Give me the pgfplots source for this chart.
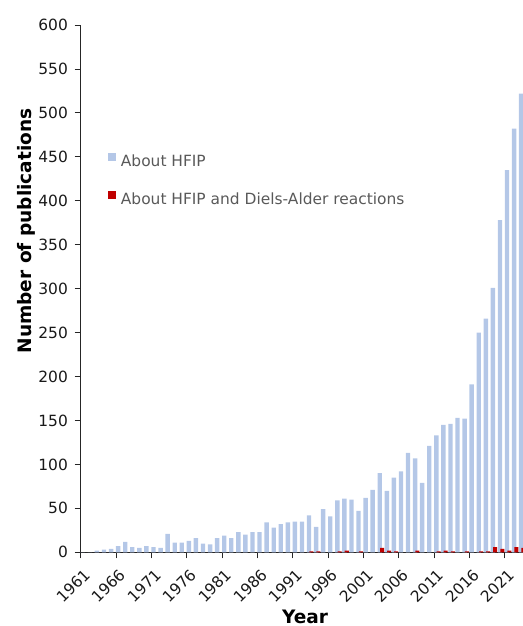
\documentclass[border=0pt]{standalone}
\usepackage{pgfplots}
\pgfplotsset{compat=1.18}
\usepackage{pgfplotstable}
\usepackage{fontspec}
\setmainfont{DejaVu Sans}
\definecolor{hfipblue}{HTML}{B4C7E7}
\definecolor{dared}{HTML}{C00000}
\definecolor{legtext}{HTML}{595959}

\pgfplotstableread{
year n
1961 0
1962 0
1963 2
1964 3
1965 4
1966 7
1967 12
1968 6
1969 5
1970 7
1971 6
1972 5
1973 21
1974 11
1975 11
1976 13
1977 16
1978 10
1979 9
1980 16
1981 19
1982 16
1983 23
1984 20
1985 23
1986 23
1987 34
1988 28
1989 32
1990 34
1991 35
1992 35
1993 42
1994 29
1995 49
1996 41
1997 59
1998 61
1999 60
2000 47
2001 62
2002 71
2003 90
2004 70
2005 85
2006 92
2007 113
2008 107
2009 79
2010 121
2011 133
2012 145
2013 146
2014 153
2015 152
2016 191
2017 250
2018 266
2019 301
2020 378
2021 435
2022 482
2023 522
}\hfip

\pgfplotstableread{
year n
1993 1
1994 1
1997 1
1998 2
2000 1
2003 5
2004 2
2005 1
2008 2
2011 1
2012 2
2013 1
2015 1
2017 1
2018 1
2019 6
2020 4
2021 2
2022 6
2023 5
}\hfipda

\begin{document}
\begin{tikzpicture}
\begin{axis}[
  at={(0,0)}, anchor=south west,
  scale only axis, width=442.4bp, height=527.3bp,
  xmin=1961, xmax=2023.57, ymin=0, ymax=600,
  axis lines=left,
  axis line style={-, black!85, line width=0.9pt},
  tick align=outside, major tick length=6bp,
  tick style={black!85, line width=0.8pt},
  xtick={1961,1966,...,2021}, ytick={0,50,...,600},
  minor tick num=0,
  /pgf/number format/assume math mode=true,
  /pgf/number format/1000 sep={},
  every tick label/.append style={font=\fontsize{15.5}{18}\selectfont, text=black!90},
  every x tick label/.append style={inner sep=0pt, xshift=2.7bp, yshift=-9.4bp, rotate=45, anchor=north east},
  every y tick label/.append style={inner sep=0pt, xshift=-6.5bp, anchor=east},
  xlabel={Year}, ylabel={Number of publications},
  every axis x label/.style={at={(rel axis cs:0.5072,-0.1345)}, anchor=base,
    font=\fontsize{18.6}{22}\selectfont\bfseries, text=black},
  every axis y label/.style={at={(rel axis cs:-0.1119,0.6093)}, anchor=base, rotate=90,
    font=\fontsize{18.6}{22}\selectfont\bfseries, text=black},
  legend style={at={(rel axis cs:0.0626,0.757)}, anchor=north west, draw=none, fill=none,
    inner sep=0pt, row sep=23.5bp, font=\fontsize{15.5}{18}\selectfont, text=legtext,
    nodes={inner sep=0pt},
    /tikz/every odd column/.append style={column sep=4.4bp}},
  legend cell align=left,
  legend image code/.code={\fill[#1] (0bp,0bp) rectangle (8bp,8bp);},
]
\addplot[ybar, bar width=0.62, bar shift=0.31, fill=hfipblue, draw=none] table[x=year, y=n] {\hfip};
\addplot[ybar, bar width=0.57, bar shift=0.64, fill=dared, draw=none] table[x=year, y=n] {\hfipda};
\legend{About HFIP, About HFIP and Diels-Alder reactions}
\end{axis}
\pgfresetboundingbox
\path[use as bounding box] (-80.6bp,-73.7bp) rectangle (442.4bp,552.3bp);
\end{tikzpicture}
\end{document}
